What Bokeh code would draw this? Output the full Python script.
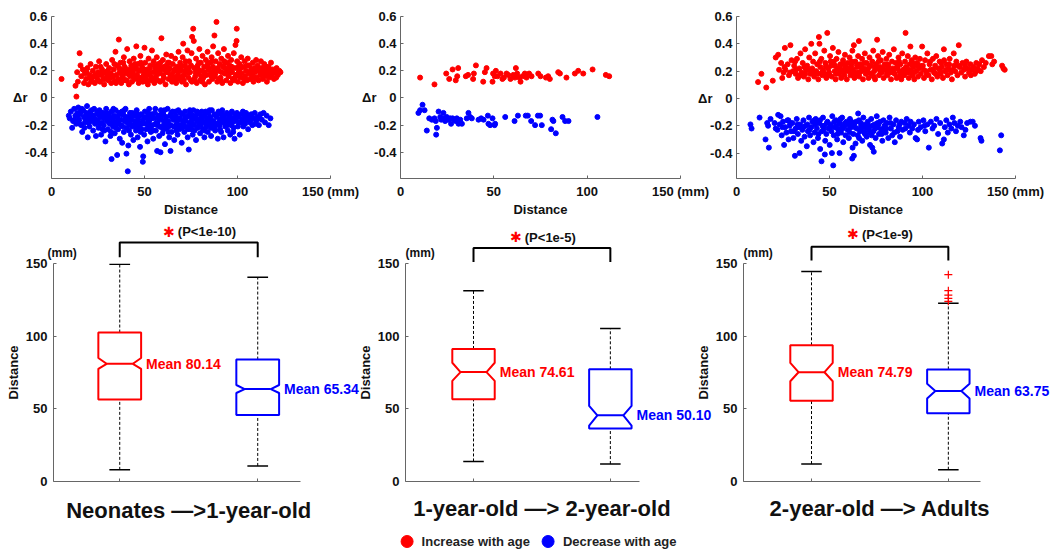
from bokeh.plotting import figure
from bokeh.layouts import row, column
from bokeh.models import Range1d, FixedTicker, Legend, LegendItem
from bokeh.core.properties import value
from bokeh.embed import file_html
from bokeh.resources import INLINE

FONT = "Liberation Sans"
SYMBOL_FONT = "DejaVu Sans"
RED = "#ff0000"
BLUE = "#0000ff"
INK = "#111111"
AXIS = "#666666"

# ---------------------------------------------------------------------------
# Δr against inter-regional distance (mm), one pair of series per transition
# ---------------------------------------------------------------------------
inc_neo = [
    (5.4, 0.14), (12.9, 0.09), (13.4, 0.01), (13.8, 0.19), (14.2, 0.12), (15.1, 0.33), (15.6, 0.24),
    (16.0, 0.16), (16.8, 0.21), (17.5, 0.11), (17.9, 0.18), (18.6, 0.14), (19.3, 0.22), (19.8, 0.10),
    (20.4, 0.17), (21.0, 0.25), (21.7, 0.13), (22.2, 0.20), (22.8, 0.16), (23.3, 0.11), (23.9, 0.23),
    (24.5, 0.15), (25.0, 0.19), (25.6, 0.27), (26.1, 0.12), (26.7, 0.17), (27.2, 0.21), (27.8, 0.14),
    (28.3, 0.10), (28.8, 0.19), (29.4, 0.25), (29.9, 0.16), (30.5, 0.13), (31.0, 0.22), (31.6, 0.18),
    (32.1, 0.11), (32.6, 0.28), (33.0, 0.15), (33.5, 0.21), (34.0, 0.12), (34.4, 0.34), (34.9, 0.17),
    (35.3, 0.24), (35.8, 0.14), (36.2, 0.43), (36.6, 0.19), (37.1, 0.26), (37.5, 0.11), (38.0, 0.20),
    (38.4, 0.15), (38.9, 0.30), (39.3, 0.23), (39.8, 0.13), (40.2, 0.18), (40.7, 0.36), (41.1, 0.21),
    (41.6, 0.10), (42.0, 0.27), (42.5, 0.16), (42.9, 0.24), (43.3, 0.12), (43.8, 0.19), (44.2, 0.29),
    (44.7, 0.14), (45.1, 0.22), (45.6, 0.38), (46.0, 0.17), (46.5, 0.25), (46.9, 0.11), (47.4, 0.20),
    (47.8, 0.31), (48.2, 0.15), (48.7, 0.23), (49.1, 0.12), (49.6, 0.18), (50.0, 0.37), (50.4, 0.26),
    (50.9, 0.14), (51.3, 0.21), (51.8, 0.10), (52.2, 0.29), (52.7, 0.17), (53.1, 0.24), (53.5, 0.13),
    (54.0, 0.35), (54.4, 0.19), (54.9, 0.27), (55.3, 0.11), (55.8, 0.22), (56.2, 0.16), (56.6, 0.30),
    (57.1, 0.13), (57.5, 0.25), (58.0, 0.18), (58.4, 0.12), (59.1, 0.44), (59.5, 0.21), (59.9, 0.28),
    (60.4, 0.15), (60.8, 0.23), (61.3, 0.10), (61.7, 0.32), (62.1, 0.19), (62.6, 0.26), (63.0, 0.14),
    (63.5, 0.22), (63.9, 0.17), (64.3, 0.31), (64.8, 0.12), (65.2, 0.25), (65.7, 0.20), (66.1, 0.15),
    (66.5, 0.29), (67.0, 0.11), (67.4, 0.23), (67.9, 0.18), (68.3, 0.34), (68.7, 0.14), (69.2, 0.26),
    (69.6, 0.20), (70.1, 0.12), (70.5, 0.30), (70.8, 0.40), (71.4, 0.17), (71.8, 0.24), (72.3, 0.10),
    (72.7, 0.21), (73.1, 0.35), (73.6, 0.15), (74.0, 0.27), (74.5, 0.19), (74.9, 0.13), (75.3, 0.33),
    (75.6, 0.45), (76.2, 0.51), (76.5, 0.42), (76.8, 0.22), (77.3, 0.16), (77.7, 0.29), (78.1, 0.11),
    (78.6, 0.24), (79.0, 0.18), (79.5, 0.36), (79.9, 0.13), (80.3, 0.26), (80.8, 0.20), (81.2, 0.31),
    (81.7, 0.15), (82.1, 0.23), (82.5, 0.10), (83.0, 0.28), (83.4, 0.17), (83.9, 0.34), (84.3, 0.22),
    (84.7, 0.12), (85.2, 0.26), (85.6, 0.19), (86.1, 0.30), (86.5, 0.14), (86.9, 0.38), (87.4, 0.21),
    (87.6, 0.46), (87.8, 0.16), (88.3, 0.27), (88.7, 0.56), (89.1, 0.12), (89.6, 0.33), (90.0, 0.20),
    (90.5, 0.25), (90.9, 0.15), (91.3, 0.29), (91.8, 0.11), (92.2, 0.23), (92.7, 0.36), (93.1, 0.18),
    (93.5, 0.26), (94.0, 0.13), (94.4, 0.21), (94.9, 0.31), (95.3, 0.16), (95.7, 0.24), (96.2, 0.11),
    (96.6, 0.28), (97.1, 0.19), (97.5, 0.14), (98.0, 0.33), (98.4, 0.22), (98.9, 0.39), (99.3, 0.17),
    (99.5, 0.42), (99.6, 0.51), (99.8, 0.27), (100.2, 0.12), (100.7, 0.20), (101.1, 0.25), (101.5, 0.15),
    (102.0, 0.30), (102.4, 0.18), (102.9, 0.11), (103.3, 0.23), (103.8, 0.27), (104.2, 0.16), (104.6, 0.20),
    (105.1, 0.13), (105.5, 0.29), (106.0, 0.18), (106.4, 0.24), (106.8, 0.14), (107.3, 0.21), (107.7, 0.17),
    (108.2, 0.26), (108.6, 0.12), (109.1, 0.22), (109.5, 0.19), (110.0, 0.28), (110.4, 0.15), (110.8, 0.24),
    (111.3, 0.13), (111.7, 0.20), (112.2, 0.17), (112.6, 0.27), (113.1, 0.22), (113.5, 0.14), (114.0, 0.19),
    (114.4, 0.25), (114.9, 0.16), (115.3, 0.21), (115.8, 0.12), (116.2, 0.18), (116.7, 0.23), (117.1, 0.15),
    (117.6, 0.20), (118.0, 0.26), (118.5, 0.17), (119.0, 0.21), (119.6, 0.14), (120.3, 0.19), (121.0, 0.22),
    (121.7, 0.17), (122.5, 0.20), (123.1, 0.19),
    (31.3, 0.15), (33.8, 0.25), (36.9, 0.13), (39.6, 0.20), (41.9, 0.17), (44.9, 0.25), (47.1, 0.13),
    (49.8, 0.21), (52.0, 0.19), (53.8, 0.15), (55.6, 0.24), (57.8, 0.20), (60.1, 0.17), (61.9, 0.24),
    (64.6, 0.14), (66.3, 0.21), (68.0, 0.16), (69.9, 0.23), (71.1, 0.13), (73.4, 0.19), (75.0, 0.24),
    (76.9, 0.14), (78.9, 0.21), (80.5, 0.16), (82.3, 0.19), (84.0, 0.25), (85.9, 0.16), (88.0, 0.21),
    (89.9, 0.14), (91.5, 0.19), (93.3, 0.22), (95.0, 0.17), (96.9, 0.23), (98.6, 0.15), (100.4, 0.23),
    (45.8, 0.15), (58.6, 0.26), (62.9, 0.20), (71.9, 0.20), (81.0, 0.12), (86.8, 0.23), (94.6, 0.26),
    (50.6, 0.16), (43.6, 0.22), (37.9, 0.17), (27.5, 0.18), (24.8, 0.13), (20.9, 0.15),
    (18.9, 0.19), (21.3, 0.12), (23.6, 0.17), (26.4, 0.23), (28.6, 0.14), (30.2, 0.20), (32.4, 0.17),
    (34.7, 0.11), (36.4, 0.22), (38.6, 0.26), (40.5, 0.13), (42.3, 0.20), (44.4, 0.16), (46.2, 0.21),
    (48.0, 0.26), (49.4, 0.16), (51.1, 0.12), (52.9, 0.22), (54.7, 0.14), (56.4, 0.19), (58.2, 0.23),
    (59.7, 0.13), (61.5, 0.20), (63.2, 0.26), (65.0, 0.17), (66.8, 0.13), (68.5, 0.21), (70.3, 0.16),
    (72.1, 0.27), (73.8, 0.22), (75.5, 0.12), (77.5, 0.19), (79.2, 0.26), (80.9, 0.13), (82.7, 0.17),
    (84.5, 0.21), (86.3, 0.27), (88.1, 0.18), (89.4, 0.22), (91.1, 0.13), (92.9, 0.27), (94.2, 0.18),
    (96.4, 0.20), (98.2, 0.13), (100.0, 0.17), (101.8, 0.22), (103.6, 0.14), (105.3, 0.24), (107.0, 0.19),
    (108.9, 0.15), (110.6, 0.21), (112.9, 0.18), (115.6, 0.23), (118.3, 0.19), (120.8, 0.15),
]

dec_neo = [
    (9.3, -0.13), (9.8, -0.15), (10.4, -0.10), (11.1, -0.22), (11.6, -0.17), (12.2, -0.08), (12.8, -0.13),
    (13.3, -0.19), (13.9, -0.11), (14.4, -0.07), (14.9, -0.16), (15.4, -0.12), (16.0, -0.20), (16.5, -0.25),
    (17.0, -0.09), (17.5, -0.14), (18.0, -0.18), (18.6, -0.11), (19.1, -0.06), (19.5, -0.29), (19.9, -0.15),
    (20.4, -0.21), (20.9, -0.10), (21.4, -0.17), (21.9, -0.13), (22.4, -0.24), (22.9, -0.08), (23.4, -0.19),
    (23.9, -0.28), (24.3, -0.12), (24.8, -0.16), (25.3, -0.22), (25.8, -0.09), (26.2, -0.14), (26.7, -0.27),
    (27.2, -0.18), (27.6, -0.11), (28.1, -0.20), (28.6, -0.15), (29.0, -0.32), (29.4, -0.08), (29.9, -0.17),
    (30.3, -0.23), (30.8, -0.12), (31.3, -0.19), (31.7, -0.28), (32.2, -0.10), (32.3, -0.45), (32.7, -0.15),
    (33.1, -0.21), (33.6, -0.13), (34.0, -0.26), (34.5, -0.09), (34.9, -0.18), (35.3, -0.42), (35.4, -0.14),
    (35.8, -0.23), (36.3, -0.11), (36.7, -0.30), (37.2, -0.16), (37.6, -0.20), (38.0, -0.33), (38.5, -0.12),
    (38.9, -0.25), (39.4, -0.17), (39.8, -0.08), (40.3, -0.41), (40.4, -0.22), (40.9, -0.14), (41.0, -0.54),
    (41.3, -0.35), (41.8, -0.19), (42.2, -0.11), (42.7, -0.27), (43.1, -0.16), (43.6, -0.21), (44.0, -0.31),
    (44.5, -0.13), (44.9, -0.18), (45.4, -0.24), (45.8, -0.09), (46.3, -0.29), (46.7, -0.15), (47.2, -0.20),
    (47.6, -0.36), (48.1, -0.12), (48.5, -0.23), (49.0, -0.17), (49.1, -0.47), (49.3, -0.43), (49.8, -0.27),
    (50.2, -0.10), (50.7, -0.19), (51.1, -0.14), (51.6, -0.32), (52.0, -0.22), (52.5, -0.08), (52.9, -0.16),
    (53.4, -0.25), (53.8, -0.12), (54.3, -0.20), (54.7, -0.30), (55.2, -0.15), (55.6, -0.11), (56.1, -0.24),
    (56.8, -0.39), (57.0, -0.18), (57.4, -0.13), (57.9, -0.28), (58.3, -0.21), (58.6, -0.40), (58.8, -0.09),
    (59.2, -0.16), (59.7, -0.26), (60.1, -0.12), (60.6, -0.19), (61.0, -0.34), (61.5, -0.14), (61.9, -0.22),
    (62.4, -0.08), (62.8, -0.17), (63.3, -0.29), (63.7, -0.13), (64.0, -0.39), (64.2, -0.20), (64.6, -0.25),
    (65.1, -0.10), (65.5, -0.16), (66.0, -0.31), (66.4, -0.21), (66.9, -0.13), (67.3, -0.18), (67.8, -0.27),
    (68.2, -0.09), (68.7, -0.23), (69.1, -0.15), (69.6, -0.20), (70.0, -0.33), (70.5, -0.12), (70.9, -0.17),
    (71.4, -0.25), (71.8, -0.10), (72.3, -0.21), (72.7, -0.14), (73.2, -0.29), (73.8, -0.38), (74.1, -0.18),
    (74.5, -0.11), (75.0, -0.23), (75.4, -0.16), (75.9, -0.27), (76.3, -0.09), (76.8, -0.20), (77.2, -0.13),
    (77.7, -0.31), (78.1, -0.17), (78.6, -0.22), (79.0, -0.12), (79.5, -0.19), (79.9, -0.26), (80.4, -0.15),
    (80.8, -0.10), (81.3, -0.23), (81.7, -0.18), (82.2, -0.29), (82.6, -0.13), (83.1, -0.21), (83.5, -0.16),
    (84.0, -0.25), (84.4, -0.11), (84.9, -0.19), (85.3, -0.14), (85.8, -0.28), (86.2, -0.09), (86.7, -0.22),
    (87.1, -0.17), (87.6, -0.12), (88.0, -0.24), (88.5, -0.19), (88.9, -0.14), (89.4, -0.30), (89.8, -0.10),
    (90.3, -0.20), (90.7, -0.16), (91.2, -0.25), (91.6, -0.12), (92.1, -0.18), (92.5, -0.29), (93.0, -0.13),
    (93.4, -0.21), (93.9, -0.16), (94.3, -0.11), (94.8, -0.24), (95.2, -0.18), (95.7, -0.13), (96.1, -0.27),
    (96.6, -0.20), (97.0, -0.10), (97.5, -0.15), (97.9, -0.22), (98.4, -0.30), (98.8, -0.12), (99.3, -0.17),
    (99.7, -0.11), (100.2, -0.21), (100.6, -0.14), (101.2, -0.27), (101.6, -0.18), (102.1, -0.12), (102.6, -0.16),
    (103.1, -0.21), (103.6, -0.13), (104.1, -0.19), (104.6, -0.11), (105.1, -0.16), (105.7, -0.23), (106.2, -0.13),
    (106.8, -0.18), (107.4, -0.12), (108.0, -0.20), (108.6, -0.15), (109.3, -0.11), (110.0, -0.17), (110.8, -0.14),
    (111.5, -0.20), (112.3, -0.12), (113.1, -0.16), (114.0, -0.11), (114.8, -0.18), (115.7, -0.13), (116.8, -0.20),
    (117.7, -0.15),
    (15.8, -0.10), (18.3, -0.16), (21.2, -0.12), (24.0, -0.18), (26.9, -0.11), (28.8, -0.13), (30.6, -0.16),
    (32.5, -0.19), (34.2, -0.14), (36.0, -0.19), (37.9, -0.10), (39.6, -0.14), (41.5, -0.16), (43.4, -0.11),
    (45.2, -0.17), (47.0, -0.13), (48.8, -0.19), (50.5, -0.15), (52.3, -0.18), (54.1, -0.13), (55.9, -0.19),
    (57.6, -0.15), (59.5, -0.10), (61.2, -0.17), (63.0, -0.21), (64.9, -0.14), (66.7, -0.10), (68.5, -0.16),
    (70.2, -0.22), (72.0, -0.17), (73.9, -0.13), (75.6, -0.19), (77.5, -0.15), (79.3, -0.11), (81.0, -0.16),
    (82.9, -0.10), (84.7, -0.15), (86.5, -0.19), (88.2, -0.13), (90.0, -0.18), (91.9, -0.14), (93.7, -0.19),
    (95.5, -0.15), (97.3, -0.18), (27.4, -0.23), (33.4, -0.18), (42.5, -0.20), (46.0, -0.22), (53.1, -0.21),
    (60.4, -0.23), (67.1, -0.24), (74.8, -0.21), (80.1, -0.20), (85.6, -0.22),
    (12.5, -0.16), (14.0, -0.13), (15.2, -0.19), (16.3, -0.08), (17.7, -0.22), (19.0, -0.12), (20.1, -0.18),
    (21.6, -0.09), (22.7, -0.15), (24.6, -0.10), (25.9, -0.19), (27.0, -0.14), (28.4, -0.24), (29.7, -0.11),
    (31.0, -0.14), (32.0, -0.25), (33.3, -0.08), (34.6, -0.22), (35.6, -0.17), (37.0, -0.12), (38.2, -0.21),
    (39.1, -0.09), (40.6, -0.18), (41.7, -0.24), (42.9, -0.13), (44.2, -0.20), (45.5, -0.11), (46.5, -0.18),
    (47.9, -0.25), (49.5, -0.14), (50.9, -0.23), (51.9, -0.11), (53.3, -0.15), (54.5, -0.24), (55.8, -0.08),
    (56.9, -0.20), (58.1, -0.13), (59.3, -0.22), (60.7, -0.09), (61.7, -0.19), (62.9, -0.25), (64.4, -0.11),
    (65.7, -0.21), (66.6, -0.15), (68.0, -0.20), (69.3, -0.11), (70.7, -0.19), (71.9, -0.14), (73.3, -0.23),
    (74.4, -0.09), (75.8, -0.13), (76.9, -0.24), (78.3, -0.10), (79.7, -0.16), (81.1, -0.13), (82.4, -0.24),
    (83.8, -0.19), (85.0, -0.09), (86.3, -0.17), (87.9, -0.21), (89.2, -0.12), (90.6, -0.23), (91.8, -0.09),
    (93.2, -0.17), (94.6, -0.20), (96.0, -0.12), (97.7, -0.25), (99.0, -0.15), (100.9, -0.18), (102.9, -0.10),
    (104.9, -0.14), (107.0, -0.16), (109.8, -0.19), (112.0, -0.15),
]

inc_1y = [
    (10.5, 0.15), (18.2, 0.10), (24.5, 0.18), (26.1, 0.14), (27.9, 0.21), (29.6, 0.13), (30.9, 0.22),
    (30.4, 0.16), (35.0, 0.16), (36.2, 0.17), (39.3, 0.18), (38.9, 0.14), (40.4, 0.24), (44.3, 0.12),
    (45.2, 0.19), (46.1, 0.22), (49.6, 0.18), (49.3, 0.12), (50.5, 0.16), (51.1, 0.20), (52.0, 0.16),
    (53.6, 0.18), (54.6, 0.14), (55.4, 0.15), (56.8, 0.18), (57.7, 0.17), (58.9, 0.14), (60.4, 0.17),
    (61.8, 0.22), (61.3, 0.15), (62.5, 0.18), (63.6, 0.15), (64.3, 0.12), (65.4, 0.16), (66.6, 0.18),
    (67.5, 0.15), (68.9, 0.18), (70.2, 0.16), (73.8, 0.18), (75.0, 0.16), (77.9, 0.15), (79.1, 0.16),
    (80.0, 0.14), (84.5, 0.19), (85.4, 0.18), (88.9, 0.15), (93.4, 0.18), (95.2, 0.20), (97.9, 0.18),
    (102.9, 0.21), (110.0, 0.17), (111.8, 0.16),
]

dec_1y = [
    (11.8, -0.05), (10.5, -0.09), (9.6, -0.11), (12.9, -0.09), (14.1, -0.24), (15.4, -0.15), (16.8, -0.16),
    (18.2, -0.15), (18.9, -0.17), (19.5, -0.22), (19.1, -0.27), (20.4, -0.10), (21.3, -0.14), (21.8, -0.16),
    (23.0, -0.11), (23.6, -0.15), (23.9, -0.17), (24.8, -0.14), (25.7, -0.16), (26.6, -0.15), (27.1, -0.19),
    (27.9, -0.15), (28.9, -0.16), (29.6, -0.17), (30.2, -0.15), (31.1, -0.19), (32.0, -0.16), (32.9, -0.19),
    (35.5, -0.15), (36.4, -0.11), (37.3, -0.14), (38.2, -0.15), (41.8, -0.16), (43.2, -0.15), (44.5, -0.16),
    (46.8, -0.13), (47.1, -0.19), (48.0, -0.20), (49.3, -0.15), (50.4, -0.20), (50.7, -0.19), (56.1, -0.14),
    (61.1, -0.17), (62.9, -0.13), (67.1, -0.13), (68.2, -0.13), (70.0, -0.17), (72.1, -0.20), (73.6, -0.13),
    (74.8, -0.13), (75.7, -0.20), (81.4, -0.16), (81.9, -0.17), (80.7, -0.23), (83.2, -0.26), (86.8, -0.14),
    (88.2, -0.17), (90.0, -0.17), (105.5, -0.14),
]

inc_2y = [
    (11.6, 0.12), (13.4, 0.18), (16.0, 0.08), (19.5, 0.13), (21.1, 0.30), (22.4, 0.32), (22.9, 0.21),
    (24.0, 0.26), (24.6, 0.15), (25.3, 0.19), (26.0, 0.37), (26.3, 0.21), (27.5, 0.25), (28.2, 0.17),
    (29.0, 0.39), (29.6, 0.28), (30.4, 0.20), (31.0, 0.24), (31.8, 0.18), (32.5, 0.29), (33.1, 0.15),
    (33.8, 0.22), (34.4, 0.33), (35.0, 0.19), (35.6, 0.26), (36.2, 0.16), (36.9, 0.36), (37.4, 0.21),
    (38.0, 0.24), (38.6, 0.14), (39.1, 0.30), (39.7, 0.18), (40.2, 0.40), (40.7, 0.22), (41.2, 0.27),
    (41.8, 0.16), (42.3, 0.33), (42.9, 0.20), (43.4, 0.25), (44.0, 0.14), (44.3, 0.45), (44.6, 0.40),
    (45.1, 0.23), (45.6, 0.29), (46.2, 0.17), (46.7, 0.21), (47.2, 0.35), (47.8, 0.26), (48.3, 0.15),
    (48.8, 0.48), (49.3, 0.22), (49.8, 0.19), (50.3, 0.31), (50.8, 0.24), (51.3, 0.16), (51.8, 0.37),
    (52.3, 0.27), (52.8, 0.20), (53.3, 0.14), (53.8, 0.29), (54.3, 0.22), (54.8, 0.34), (55.3, 0.18),
    (55.8, 0.25), (56.3, 0.15), (56.8, 0.21), (57.3, 0.28), (57.8, 0.19), (58.3, 0.32), (58.8, 0.23),
    (59.3, 0.14), (59.8, 0.26), (60.3, 0.20), (60.8, 0.30), (61.3, 0.17), (61.8, 0.24), (62.3, 0.35),
    (62.8, 0.21), (63.1, 0.39), (63.4, 0.15), (63.9, 0.27), (64.4, 0.19), (64.9, 0.23), (65.4, 0.31),
    (65.8, 0.42), (66.0, 0.16), (66.5, 0.25), (67.0, 0.20), (67.5, 0.29), (68.0, 0.14), (68.5, 0.22),
    (69.0, 0.33), (69.5, 0.18), (70.0, 0.26), (70.5, 0.21), (71.0, 0.15), (71.5, 0.30), (72.0, 0.24),
    (72.5, 0.18), (73.0, 0.27), (73.5, 0.35), (74.0, 0.20), (74.5, 0.14), (75.0, 0.25), (75.6, 0.43),
    (75.6, 0.22), (76.1, 0.31), (76.6, 0.17), (77.1, 0.23), (77.6, 0.28), (78.1, 0.19), (78.6, 0.34),
    (79.1, 0.15), (79.6, 0.25), (80.1, 0.21), (80.6, 0.29), (81.1, 0.17), (81.6, 0.24), (82.1, 0.32),
    (82.6, 0.19), (83.1, 0.14), (83.6, 0.27), (84.1, 0.22), (84.6, 0.36), (85.1, 0.18), (85.6, 0.26),
    (86.1, 0.15), (86.6, 0.23), (87.1, 0.30), (87.6, 0.20), (88.1, 0.25), (88.6, 0.14), (89.1, 0.33),
    (89.6, 0.21), (90.1, 0.17), (90.9, 0.48), (90.6, 0.27), (91.1, 0.23), (91.6, 0.19), (92.1, 0.31),
    (92.6, 0.15), (93.1, 0.25), (93.5, 0.38), (93.6, 0.21), (94.1, 0.28), (94.6, 0.17), (95.1, 0.23),
    (95.6, 0.14), (96.1, 0.30), (96.6, 0.20), (97.1, 0.26), (97.6, 0.16), (98.1, 0.22), (98.6, 0.29),
    (99.1, 0.18), (99.8, 0.38), (100.2, 0.24), (100.8, 0.15), (101.4, 0.28), (102.0, 0.20), (102.6, 0.33),
    (103.2, 0.17), (103.8, 0.25), (104.4, 0.21), (105.0, 0.14), (105.6, 0.29), (106.2, 0.19), (106.8, 0.24),
    (107.4, 0.31), (108.0, 0.16), (108.6, 0.22), (109.2, 0.27), (109.8, 0.18), (110.4, 0.23), (111.0, 0.15),
    (111.5, 0.36), (111.6, 0.28), (112.2, 0.20), (112.8, 0.25), (113.4, 0.17), (114.0, 0.22), (114.6, 0.29),
    (115.2, 0.19), (115.8, 0.14), (116.8, 0.33), (117.0, 0.24), (117.6, 0.20), (118.2, 0.27), (118.8, 0.17),
    (119.5, 0.39), (120.1, 0.23), (120.8, 0.19), (121.5, 0.26), (122.2, 0.21), (122.9, 0.16), (123.6, 0.27),
    (124.3, 0.22), (125.0, 0.19), (125.8, 0.25), (126.5, 0.21), (127.3, 0.23), (128.1, 0.18), (128.9, 0.26),
    (129.7, 0.22), (130.5, 0.25), (131.3, 0.20), (132.0, 0.28), (133.0, 0.23), (134.0, 0.26), (135.7, 0.31),
    (137.0, 0.31), (137.5, 0.25), (138.5, 0.27), (142.8, 0.24), (143.5, 0.22), (144.2, 0.21),
    (32.0, 0.21), (37.0, 0.18), (41.5, 0.20), (45.9, 0.19), (50.0, 0.17), (53.0, 0.24), (56.0, 0.20),
    (58.0, 0.17), (61.0, 0.22), (64.0, 0.17), (67.2, 0.23), (70.8, 0.19), (73.8, 0.16), (77.3, 0.20),
    (80.9, 0.18), (84.3, 0.19), (87.9, 0.17), (91.8, 0.21), (95.3, 0.19), (98.9, 0.24), (102.3, 0.18),
    (105.9, 0.21), (109.5, 0.20), (113.0, 0.21), (43.7, 0.18), (48.0, 0.24), (62.5, 0.18), (69.2, 0.21),
    (81.8, 0.21), (89.0, 0.19),
    (25.8, 0.23), (28.8, 0.19), (31.5, 0.27), (34.1, 0.17), (36.5, 0.23), (39.4, 0.21), (42.0, 0.18),
    (44.8, 0.27), (47.5, 0.18), (50.6, 0.27), (53.6, 0.18), (55.5, 0.22), (57.6, 0.25), (59.6, 0.21),
    (62.0, 0.27), (64.7, 0.25), (66.2, 0.19), (68.8, 0.26), (71.3, 0.23), (74.3, 0.23), (76.4, 0.27),
    (78.8, 0.22), (81.3, 0.25), (83.3, 0.20), (85.9, 0.22), (87.4, 0.27), (90.4, 0.20), (92.9, 0.19),
    (94.9, 0.26), (97.4, 0.24), (100.6, 0.21), (104.1, 0.27), (107.1, 0.18), (110.1, 0.26), (114.3, 0.25),
    (116.4, 0.21), (119.2, 0.24), (123.0, 0.24), (126.0, 0.17), (129.0, 0.20),
]

dec_2y = [
    (7.5, -0.19), (8.1, -0.22), (12.4, -0.14), (15.6, -0.30), (16.5, -0.18), (17.0, -0.20), (17.4, -0.36),
    (18.3, -0.15), (21.1, -0.22), (22.0, -0.23), (22.4, -0.12), (23.2, -0.19), (23.7, -0.13), (24.3, -0.27),
    (25.0, -0.17), (25.6, -0.34), (26.2, -0.21), (26.8, -0.25), (27.4, -0.16), (28.0, -0.30), (28.6, -0.20),
    (29.3, -0.24), (30.0, -0.18), (30.6, -0.29), (31.4, -0.42), (31.8, -0.22), (32.4, -0.15), (33.0, -0.26),
    (33.9, -0.40), (34.2, -0.19), (34.8, -0.31), (35.4, -0.23), (36.0, -0.16), (36.6, -0.28), (37.2, -0.20),
    (37.8, -0.35), (38.4, -0.24), (39.0, -0.14), (39.6, -0.27), (40.2, -0.21), (40.8, -0.17), (41.4, -0.32),
    (42.0, -0.25), (42.6, -0.15), (43.2, -0.22), (43.8, -0.29), (44.4, -0.18), (45.0, -0.37), (45.7, -0.46),
    (45.9, -0.24), (46.5, -0.14), (47.1, -0.20), (47.5, -0.41), (47.7, -0.31), (48.3, -0.26), (48.9, -0.17),
    (49.5, -0.22), (50.1, -0.34), (50.7, -0.19), (51.3, -0.40), (51.5, -0.13), (52.0, -0.49), (52.3, -0.27),
    (52.9, -0.21), (53.5, -0.16), (54.1, -0.30), (54.7, -0.23), (55.4, -0.40), (55.6, -0.18), (56.2, -0.25),
    (56.8, -0.14), (57.4, -0.32), (58.0, -0.20), (58.6, -0.27), (59.2, -0.17), (59.8, -0.23), (60.4, -0.29),
    (61.0, -0.15), (61.6, -0.21), (62.2, -0.44), (62.4, -0.36), (62.8, -0.26), (63.1, -0.42), (63.4, -0.18),
    (64.0, -0.33), (64.6, -0.22), (65.2, -0.27), (65.4, -0.11), (65.8, -0.16), (66.4, -0.24), (67.0, -0.20),
    (67.6, -0.31), (68.2, -0.14), (68.8, -0.25), (69.4, -0.19), (70.0, -0.28), (70.6, -0.17), (71.2, -0.22),
    (71.8, -0.34), (72.4, -0.15), (73.0, -0.36), (73.6, -0.24), (73.8, -0.39), (74.2, -0.19), (74.8, -0.29),
    (75.4, -0.13), (76.0, -0.21), (76.6, -0.26), (77.2, -0.17), (77.8, -0.23), (78.4, -0.31), (79.0, -0.16),
    (79.6, -0.20), (80.2, -0.25), (80.9, -0.18), (81.6, -0.29), (82.3, -0.14), (83.0, -0.22), (83.7, -0.27),
    (84.4, -0.19), (85.1, -0.32), (85.8, -0.16), (86.5, -0.24), (87.2, -0.21), (87.9, -0.28), (88.6, -0.17),
    (89.3, -0.23), (90.5, -0.18), (91.5, -0.15), (92.5, -0.20), (93.6, -0.17), (94.5, -0.22), (95.4, -0.19),
    (96.3, -0.29), (97.1, -0.30), (98.0, -0.17), (99.0, -0.21), (100.5, -0.16), (101.5, -0.24), (102.6, -0.19),
    (103.4, -0.36), (104.5, -0.17), (105.4, -0.22), (106.3, -0.20), (107.5, -0.15), (108.4, -0.26), (109.5, -0.18),
    (110.6, -0.33), (111.5, -0.30), (112.0, -0.21), (112.8, -0.16), (113.6, -0.25), (114.5, -0.19), (115.5, -0.22),
    (116.3, -0.14), (117.2, -0.18), (118.0, -0.24), (119.0, -0.20), (120.3, -0.17), (121.0, -0.21), (122.2, -0.27),
    (123.1, -0.23), (124.0, -0.18), (125.8, -0.17), (127.0, -0.17), (128.2, -0.20), (131.2, -0.29), (131.7, -0.31),
    (141.6, -0.38), (142.3, -0.27),
    (28.9, -0.18), (33.6, -0.21), (38.1, -0.19), (42.3, -0.19), (46.8, -0.23), (50.4, -0.21), (53.8, -0.20),
    (57.1, -0.22), (60.1, -0.19), (63.7, -0.21), (66.9, -0.18), (69.9, -0.22), (72.9, -0.20), (75.8, -0.18),
    (78.9, -0.22), (44.9, -0.16), (55.9, -0.15), (61.8, -0.17), (67.9, -0.20), (71.6, -0.25),
    (20.5, -0.18), (24.7, -0.21), (27.9, -0.16), (30.9, -0.24), (32.8, -0.19), (35.9, -0.21), (39.3, -0.23),
    (41.9, -0.16), (44.1, -0.26), (46.2, -0.20), (48.6, -0.18), (51.0, -0.24), (52.6, -0.17), (54.4, -0.26),
    (56.5, -0.21), (58.4, -0.18), (60.9, -0.25), (62.6, -0.20), (64.3, -0.17), (65.9, -0.29), (67.3, -0.22),
    (69.1, -0.26), (70.9, -0.20), (72.7, -0.27), (74.6, -0.22), (76.3, -0.19), (78.1, -0.26), (80.6, -0.22),
    (82.8, -0.18), (84.9, -0.25), (87.7, -0.19), (90.8, -0.22), (93.2, -0.25), (97.6, -0.23), (101.0, -0.20),
]

increase_sets = [inc_neo, inc_1y, inc_2y]
decrease_sets = [dec_neo, dec_1y, dec_2y]

transitions = ["Neonates \u2014>1-year-old", "1-year-old \u2014> 2-year-old", "2-year-old \u2014> Adults"]
p_labels = ["(P<1e-10)", "(P<1e-5)", "(P<1e-9)"]

# distance summaries (mm): low whisker, q1, notch low, median, notch high, q3, high whisker
inc_stats = [
    [8.0, 56.5, 77.5, 81.0, 85.0, 102.5, 149.5],
    [13.8, 56.6, 69.2, 75.3, 81.7, 91.2, 131.2],
    [12.0, 55.5, 69.0, 75.2, 81.6, 93.7, 144.5],
]
dec_stats = [
    [10.7, 45.7, 60.9, 63.6, 66.4, 83.9, 140.5],
    [12.0, 36.5, 38.5, 45.5, 52.0, 77.2, 105.2],
    [8.1, 47.0, 57.1, 62.3, 67.3, 77.1, 122.6],
]
inc_means = [80.14, 74.61, 74.79]
dec_means = [65.34, 50.10, 63.75]
dec_outliers = [[], [], [124.0, 126.0, 128.3, 131.3, 142.3]]

dr_ticks = [-0.4, -0.2, 0, 0.2, 0.4, 0.6]
dr_tick_labels = ["-0.4", "-0.2", "0", "0.2", "0.4", "0.6"]
dist_ticks = [0, 50, 100, 150]
dist_tick_labels = ["0", "50", "100", "150 (mm)"]
box_dist_ticks = [0, 50, 100, 150]

# significance bracket, star and p-value text, in box-panel data units
bracket_top = [164.5, 160.7, 161.5]
bracket_foot = [154.3, 151.1, 152.0]
star_x = [1.356, 1.309, 1.303]
star_y = [172.0, 168.1, 170.1]

# ---------------------------------------------------------------------------
# geometry and style
# ---------------------------------------------------------------------------
TOP_H, BOX_H, LEG_H = 219, 315, 28
LEG_LIFT = 12          # legend strip overlaps the bottom of the box row
OVERLAP = 30           # neighbouring panels share a strip of this width
top_geom = [
    dict(width=370, left=51, right=40, top=16, bottom=36, ymin=-0.593),
    dict(width=380, left=60, right=40, top=15, bottom=37, ymin=-0.593),
    dict(width=366, left=46, right=41, top=12, bottom=41, ymin=-0.586),
]
box_geom = [
    dict(width=370, left=53, right=70, top=44, bottom=51, xr=(0.52, 2.31), title_dy=29),
    dict(width=380, left=65, right=81, top=41, bottom=53, xr=(0.503, 2.213), title_dy=27),
    dict(width=366, left=53, right=76, top=40, bottom=53, xr=(0.503, 2.235), title_dy=27),
]
BOX_W, NOTCH_IN, CAP_W = 0.31, 0.06, 0.15
DOT = 5


def base_figure(width, height, left, right, top, bottom, x_range, y_range, shift):
    p = figure(width=width, height=height, x_range=x_range, y_range=y_range,
               output_backend="svg", toolbar_location=None,
               min_border_left=left, min_border_right=right,
               min_border_top=top, min_border_bottom=bottom,
               margin=(0, 0, 0, -shift) if shift else None)
    p.grid.visible = False
    p.outline_line_color = None
    p.background_fill_alpha = 0
    p.border_fill_alpha = 0
    for ax in p.axis:
        ax.axis_line_color = AXIS
        ax.major_tick_line_color = AXIS
        ax.major_tick_in = 3
        ax.major_tick_out = 0
        ax.minor_tick_line_color = None
        ax.major_label_text_font = FONT
        ax.major_label_text_font_style = "bold"
        ax.major_label_text_font_size = "13px"
        ax.major_label_text_color = INK
        ax.axis_label_text_font = FONT
        ax.axis_label_text_font_style = "bold"
        ax.axis_label_text_font_size = "13px"
        ax.axis_label_text_color = INK
    return p


def put_text(p, x, y, txt, size, color=INK, align="left", baseline="middle", dx=0, dy=0,
             font=FONT, style="bold"):
    p.text(x=[x], y=[y], text=[txt], x_offset=dx, y_offset=dy,
           text_align=align, text_baseline=baseline, text_color=color,
           text_font=value(font), text_font_style=style, text_font_size=size,
           level="overlay")


def scatter_panel(i):
    g = top_geom[i]
    p = base_figure(g["width"], TOP_H, g["left"], g["right"], g["top"], g["bottom"],
                    Range1d(0, 150), Range1d(g["ymin"], 0.6), OVERLAP if i else 0)
    p.xaxis.ticker = FixedTicker(ticks=dist_ticks)
    p.xaxis.major_label_overrides = dict(zip(dist_ticks, dist_tick_labels))
    p.xaxis.major_label_standoff = 5
    p.xaxis.axis_label = "Distance"
    p.xaxis.axis_label_standoff = 0
    p.yaxis.ticker = FixedTicker(ticks=dr_ticks)
    p.yaxis.major_label_overrides = dict(zip(dr_ticks, dr_tick_labels))
    p.yaxis.major_label_standoff = 4

    xs, ys = zip(*increase_sets[i])
    p.scatter(list(xs), list(ys), size=DOT, color=RED)
    xs, ys = zip(*decrease_sets[i])
    p.scatter(list(xs), list(ys), size=DOT, color=BLUE)

    put_text(p, 0, 0, "\u0394r", "13px", align="right", dx=-24)
    return p


def box_panel(i):
    g = box_geom[i]
    p = base_figure(g["width"], BOX_H, g["left"], g["right"], g["top"], g["bottom"],
                    Range1d(*g["xr"]), Range1d(0, 150), OVERLAP if i else 0)
    p.xaxis.ticker = FixedTicker(ticks=[1, 2])
    p.xaxis.major_label_overrides = {1: "", 2: ""}
    p.yaxis.ticker = FixedTicker(ticks=box_dist_ticks)
    p.yaxis.major_label_standoff = 6
    p.yaxis.axis_label = "Distance"
    p.yaxis.axis_label_standoff = 2

    groups = [(1, inc_stats[i], RED, inc_means[i]), (2, dec_stats[i], BLUE, dec_means[i])]
    for pos, stats, col, mean in groups:
        lo, q1, nlo, med, nhi, q3, hi = stats
        left, right = pos - BOX_W / 2, pos + BOX_W / 2
        # dashed whiskers with solid caps
        p.segment(x0=[pos, pos], y0=[q3, lo], x1=[pos, pos], y1=[hi, q1],
                  line_color="black", line_width=1, line_dash="3 2")
        p.segment(x0=[pos - CAP_W / 2] * 2, y0=[hi, lo], x1=[pos + CAP_W / 2] * 2, y1=[hi, lo],
                  line_color="black", line_width=1.5)
        # notched box and median
        bx = [left, right, right, right - NOTCH_IN, right, right, left, left, left + NOTCH_IN, left]
        by = [q1, q1, nlo, med, nhi, q3, q3, nhi, med, nlo]
        p.patch(bx, by, fill_color=None, line_color=col, line_width=2)
        p.segment(x0=[left + NOTCH_IN], y0=[med], x1=[right - NOTCH_IN], y1=[med],
                  line_color=col, line_width=2)
        put_text(p, right, med, f"Mean {mean:.2f}", "14px", color=col, dx=5)

    if dec_outliers[i]:
        p.scatter([2] * len(dec_outliers[i]), dec_outliers[i], marker="cross",
                  size=8, line_color=RED, line_width=1.2)

    # significance bracket, star and p-value
    p.line([1, 1, 2, 2], [bracket_foot[i], bracket_top[i], bracket_top[i], bracket_foot[i]],
           line_color="black", line_width=2, level="overlay")
    put_text(p, star_x[i], star_y[i], "\u2731", "14px", color=RED, align="center",
             font=SYMBOL_FONT, style="normal")
    put_text(p, star_x[i], star_y[i], p_labels[i], "13px", dx=9)

    put_text(p, g["xr"][0], 150, "(mm)", "12px", dx=-6 if i == 0 else 0, dy=-11)
    put_text(p, 1.5, 0, transitions[i], "22px", align="center", baseline="alphabetic",
             dy=g["title_dy"])
    return p


top = row(*[scatter_panel(i) for i in range(3)])
bottom = row(*[box_panel(i) for i in range(3)])

leg = figure(width=1056, height=LEG_H, x_range=Range1d(0, 1), y_range=Range1d(0, 1),
             x_axis_type=None, y_axis_type=None, output_backend="svg", toolbar_location=None,
             min_border_left=12, min_border_right=0, min_border_top=10, min_border_bottom=0,
             margin=(-LEG_LIFT, 0, 0, 0))
leg.outline_line_color = None
leg.background_fill_alpha = 0
leg.border_fill_alpha = 0
# legend-only renderers: a single undefined point each, so nothing is plotted
r_inc = leg.scatter(x=[float("nan")], y=[float("nan")], color=RED)
r_dec = leg.scatter(x=[float("nan")], y=[float("nan")], color=BLUE)
legend = Legend(items=[LegendItem(label="Increase with age", renderers=[r_inc]),
                       LegendItem(label="Decrease with age", renderers=[r_dec])],
                orientation="horizontal", location="center",
                glyph_width=30, glyph_height=30, label_standoff=0, spacing=3,
                padding=0, margin=0, border_line_color=None, background_fill_alpha=0,
                label_text_font=FONT, label_text_font_style="bold",
                label_text_font_size="13px", label_text_color="#222222")
leg.add_layout(legend)

page = column(top, bottom, leg)

with open("out.html", "w") as f:
    f.write(file_html(page, INLINE))
